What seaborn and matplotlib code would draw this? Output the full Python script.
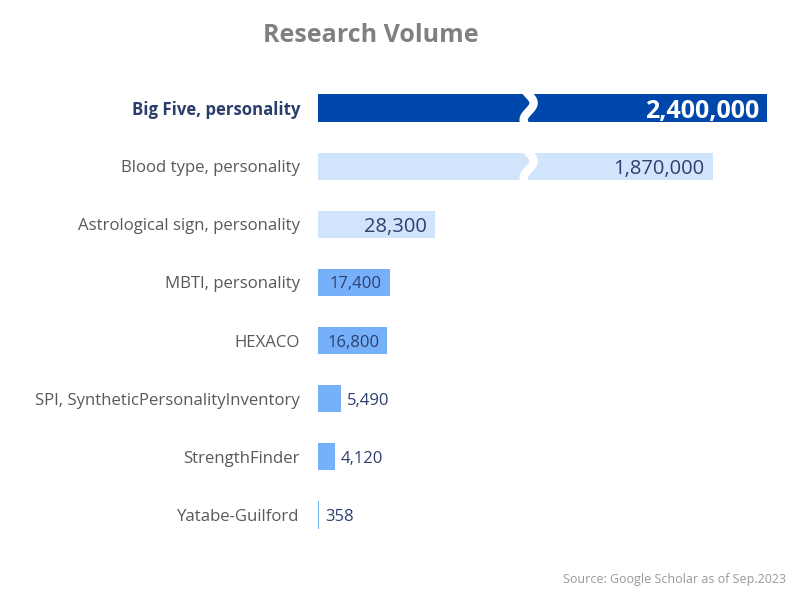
import numpy as np
import pandas as pd
import matplotlib
matplotlib.use("Agg")
import matplotlib.pyplot as plt
import seaborn as sns

categories = ["Big Five, personality", "Blood type, personality",
              "Astrological sign, personality", "MBTI, personality", "HEXACO",
              "SPI, SyntheticPersonalityInventory", "StrengthFinder", "Yatabe-Guilford"]
volumes = [2400000, 1870000, 28300, 17400, 16800, 5490, 4120, 358]
value_labels = ["2,400,000", "1,870,000", "28,300", "17,400", "16,800", "5,490", "4,120", "358"]
bar_colors = ["#0047AB", "#D0E4FC", "#D0E4FC", "#76B0FB", "#76B0FB", "#76B0FB", "#76B0FB", "#76B0FB"]
label_sizes = [18, 14.5, 14.5, 12, 12, 12, 12, 12]
label_inside = [True, True, True, True, True, False, False, False]
label_colors = ["white"] + ["#2E3F6E"] * 7

BREAK = 50000      # axis break position
COMPRESS = 40      # compression beyond break

def display_len(v):
    return v if v <= BREAK else BREAK + (v - BREAK) / COMPRESS

df = pd.DataFrame({"category": categories, "volume": volumes})
df["display"] = [display_len(v) for v in volumes]

sns.set_style("white")
plt.rcParams["font.family"] = ["Open Sans", "DejaVu Sans"]

fig = plt.figure(figsize=(8, 6), dpi=100)
ax_w_px = 462
ax = fig.add_axes([318 / 800, 1 - 544 / 600, ax_w_px / 800, 465 / 600])
XMAX = 111800
sns.barplot(data=df, x="display", y="category", hue="category",
            palette=bar_colors, legend=False, width=0.47, ax=ax,
            saturation=1, edgecolor="none")
ax.set_xlim(0, XMAX)
ax.set_ylim(len(categories) - 0.5, -0.5)
ax.set_xlabel("")
ax.set_ylabel("")
ax.set_xticks([])
for s in ax.spines.values():
    s.set_visible(False)
ax.tick_params(axis="y", length=0, pad=13, labelsize=12.1)
for i, tl in enumerate(ax.get_yticklabels()):
    if i == 0:
        tl.set_fontweight("bold")
        tl.set_color("#2B3D6B")
    else:
        tl.set_color("#595959")

px = XMAX / ax_w_px
# break marks
t = np.linspace(0, 1, 80)
for i, v in enumerate(volumes):
    if v > BREAK:
        yy = i - 0.29 + 0.58 * t
        xx = BREAK + px * (4 + 5 * np.sin(np.pi * (2 * t - 0.2)))
        ax.plot(xx, yy, color="white", lw=6, solid_capstyle="butt")

for i, (d, lab) in enumerate(zip(df["display"], value_labels)):
    weight = "bold" if i == 0 else "normal"
    if label_inside[i]:
        ax.annotate(lab, xy=(d, i), xytext=(-8, 0), textcoords="offset pixels",
                    ha="right", va="center_baseline", fontsize=label_sizes[i],
                    color=label_colors[i], fontweight=weight)
    else:
        ax.annotate(lab, xy=(d, i), xytext=(6, 0), textcoords="offset pixels",
                    ha="left", va="center_baseline", fontsize=label_sizes[i],
                    color=label_colors[i], fontweight=weight)

fig.text(371 / 800, 1 - 36 / 600, "Research Volume", ha="center", va="center",
         fontsize=18, fontweight="bold", color="#808080")
fig.text(786 / 800, 1 - 580 / 600, "Source: Google Scholar as of Sep.2023",
         ha="right", va="center", fontsize=9, color="#999999")

fig.savefig("out.png", dpi=100)
